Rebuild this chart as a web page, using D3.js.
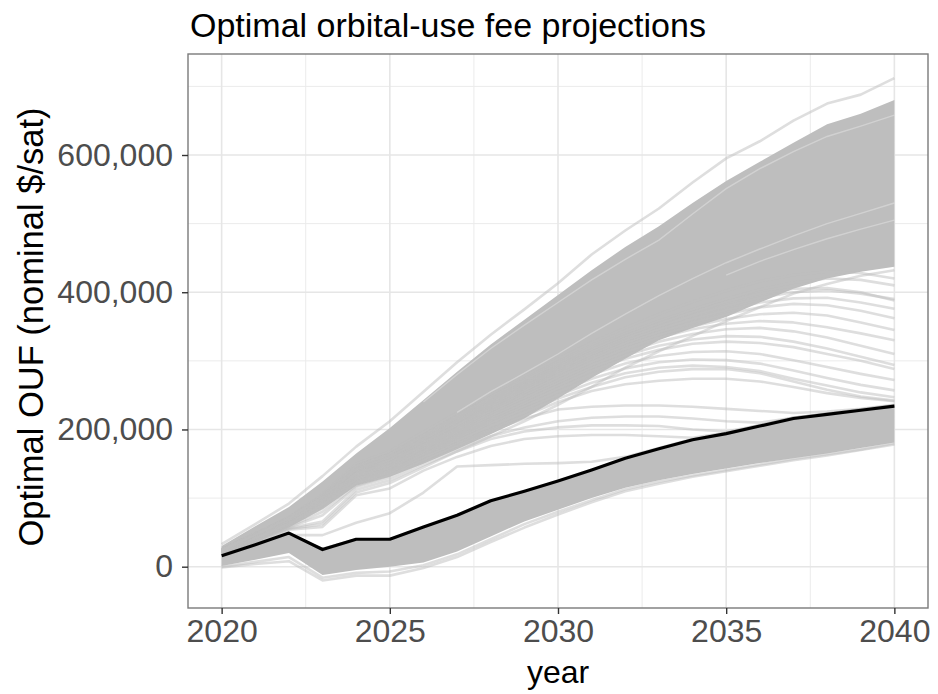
<!DOCTYPE html>
<html>
<head>
<meta charset="utf-8">
<script src="https://cdn.jsdelivr.net/npm/d3@7"></script>
<style>
  html, body { margin: 0; padding: 0; background: #ffffff; }
  svg { display: block; font-family: "Liberation Sans", Arial, sans-serif; }
</style>
</head>
<body>
<svg id="chart" width="938" height="694"></svg>
<script>
// Projection years
const years = [2020, 2021, 2022, 2023, 2024, 2025, 2026, 2027, 2028, 2029, 2030,
               2031, 2032, 2033, 2034, 2035, 2036, 2037, 2038, 2039, 2040];

// All fee values are in thousands of nominal dollars per satellite.

// Central projection (black line)
const centralPath = [16, 32, 49, 25, 40, 40, 58, 75, 96, 110, 125,
                     141, 158, 172, 185, 194, 205, 216, 222, 228, 234];

// Envelope of the densely overlapping high-growth runs
const upperBandTop    = [30, 59, 87, 124, 165, 202, 243, 284, 324, 360, 396,
                         432, 466, 496, 530, 562, 590, 618, 645, 660, 680];
const upperBandBottom = [17, 35, 57, 84, 118, 131, 150, 171, 193, 216, 245,
                         275, 303, 330, 348, 364, 385, 405, 420, 430, 437];

// Envelope of the densely overlapping low-growth runs
const lowerBandTop    = [16, 32, 48, 28, 42, 42, 58, 75, 96, 110, 125,
                         141, 158, 172, 185, 194, 205, 216, 222, 228, 236];
const lowerBandBottom = [1, 10, 20, -12, -5, 0, 6, 22, 44, 66, 83,
                         100, 115, 126, 135, 143, 151, 158, 165, 173, 181];

// Individual runs that stand apart from the dense envelopes
const runHighest = [33, 62, 92, 132, 175, 212, 255, 298, 338, 375, 413,
                    455, 490, 522, 560, 595, 620, 650, 675, 688, 712];
const runLowA = [-1, 4, 8, -20, -13, -13, -2, 14, 36, 57, 76, 94, 110, 121, 131, 139, 147, 155, 162, 170, 178];
const runLowB = [0, 7, 14, -16, -9, -7, 2, 18, 40, 62, 80, 97, 113, 124, 133, 141, 149, 157, 164, 171, 180];
const run01 = [18, 34, 46, 46, 64, 78, 108, 146, 148, 150, 151, 153, 160, 173, 186, 195, 206, 217, 223, 229, 235];
const run02 = [19, 36, 55, 62, 108, 122, 145, 168, 190, 212, 236, 262, 290, 314, 336, 358, 378, 398, 412, 424, 432];
const run03 = [18, 35, 54, 58, 104, 114, 140, 160, 176, 186, 190, 192, 192, 190, 188, 195, 206, 217, 223, 229, 235];
const run04 = [19, 37, 56, 66, 112, 126, 148, 168, 186, 197, 203, 206, 206, 205, 200, 197, 206, 217, 223, 229, 235];
const run05 = [20, 38, 57, 75, 116, 130, 152, 172, 190, 203, 212, 217, 219, 219, 216, 212, 210, 217, 223, 229, 235];
const run06 = [20, 39, 58, 80, 118, 133, 155, 177, 198, 216, 229, 233, 235, 235, 233, 230, 227, 224, 226, 230, 236];
const run07 = [21, 40, 60, 85, 122, 138, 160, 180, 200, 220, 240, 256, 266, 271, 274, 274, 270, 262, 253, 246, 241];
const run08 = [22, 42, 62, 88, 126, 142, 165, 187, 210, 230, 250, 268, 282, 290, 293, 291, 285, 274, 264, 254, 247];
const run09 = [22, 43, 64, 92, 130, 146, 170, 193, 216, 238, 260, 280, 296, 307, 313, 314, 310, 301, 291, 281, 272];
const run10 = [23, 44, 66, 95, 134, 150, 175, 199, 223, 246, 268, 290, 308, 322, 331, 336, 335, 328, 318, 306, 294];
const run11 = [24, 45, 68, 98, 138, 155, 180, 205, 230, 253, 276, 298, 318, 334, 346, 354, 358, 356, 349, 340, 330];
const run12 = [24, 46, 69, 100, 141, 158, 184, 210, 236, 260, 284, 306, 326, 342, 356, 368, 378, 383, 381, 373, 362];
const run13 = [25, 47, 70, 102, 144, 162, 188, 215, 242, 266, 290, 313, 333, 350, 366, 380, 392, 400, 403, 398, 390];
const run14 = [25, 48, 71, 104, 147, 165, 192, 220, 247, 272, 296, 320, 340, 358, 375, 390, 404, 414, 420, 418, 410];
const run15 = [21, 41, 61, 86, 124, 140, 163, 184, 205, 225, 245, 262, 276, 284, 288, 288, 282, 270, 258, 248, 242];
const run16 = [23, 44, 65, 94, 132, 148, 172, 196, 220, 242, 264, 286, 303, 316, 325, 328, 326, 320, 310, 300, 288];
const run17 = [24, 46, 68, 99, 140, 156, 182, 207, 233, 257, 281, 303, 322, 338, 350, 361, 368, 370, 366, 356, 345];
const run18 = [25, 48, 72, 106, 150, 168, 196, 224, 252, 278, 303, 327, 348, 368, 386, 402, 416, 425, 430, 428, 420];
const run19 = [23, 45, 67, 97, 136, 152, 178, 202, 227, 250, 272, 294, 313, 328, 339, 346, 348, 343, 334, 322, 310];
const run20 = [22, 42, 63, 90, 128, 144, 168, 190, 213, 234, 255, 274, 289, 298, 302, 301, 296, 286, 275, 265, 257];
const run21 = [25, 47, 71, 103, 146, 164, 190, 218, 245, 269, 293, 317, 337, 355, 371, 386, 398, 405, 406, 400, 388];
const run22 = [24, 46, 70, 101, 142, 160, 186, 212, 239, 263, 287, 310, 330, 346, 361, 374, 385, 391, 392, 385, 376];

// Thin lighter tracks inside the dense envelope where fewer runs pass
const sparseTrackA = [null, null, null, null, null, null, 240, 280, 318, 352, 385, 418, 448, 476, 514, 551, 580, 605, 627, 642, 658];
const sparseTrackB = [null, null, null, null, null, null, null, 225, 255, 282, 310, 340, 368, 395, 420, 443, 463, 482, 500, 515, 530];
const sparseTrackC = [null, null, null, null, null, null, null, null, null, null, null, null, null, null, null, 425, 445, 462, 478, 492, 505];

// Axis ticks
const xTicks = [2020, 2025, 2030, 2035, 2040];
const xMinorTicks = [2022.5, 2027.5, 2032.5, 2037.5];
const yTicks = [0, 200, 400, 600];
const yMinorTicks = [100, 300, 500, 700];

const scatteredRuns = [run01, run02, run03, run04, run05, run06, run07, run08, run09, run10, run11,
                       run12, run13, run14, run15, run16, run17, run18, run19, run20, run21, run22];

// ---- layout ----
const svg = d3.select("#chart");
const panel = { left: 188, top: 54, right: 928, bottom: 608 };

const x = d3.scaleLinear().domain([2019, 2041]).range([panel.left, panel.right]);
const y = d3.scaleLinear().domain([-60.2, 747.2]).range([panel.bottom, panel.top]);

svg.append("defs").append("clipPath").attr("id", "panel-clip")
  .append("rect")
  .attr("x", panel.left).attr("y", panel.top)
  .attr("width", panel.right - panel.left).attr("height", panel.bottom - panel.top);

// grid
const grid = svg.append("g");
grid.selectAll(".ymin").data(yMinorTicks).join("line")
  .attr("x1", panel.left).attr("x2", panel.right)
  .attr("y1", d => y(d)).attr("y2", d => y(d))
  .attr("stroke", "#ebebeb").attr("stroke-width", 1);
grid.selectAll(".xmin").data(xMinorTicks).join("line")
  .attr("y1", panel.top).attr("y2", panel.bottom)
  .attr("x1", d => x(d)).attr("x2", d => x(d))
  .attr("stroke", "#ebebeb").attr("stroke-width", 1);
grid.selectAll(".ymaj").data(yTicks).join("line")
  .attr("x1", panel.left).attr("x2", panel.right)
  .attr("y1", d => y(d)).attr("y2", d => y(d))
  .attr("stroke", "#e6e6e6").attr("stroke-width", 1.6);
grid.selectAll(".xmaj").data(xTicks).join("line")
  .attr("y1", panel.top).attr("y2", panel.bottom)
  .attr("x1", d => x(d)).attr("x2", d => x(d))
  .attr("stroke", "#e6e6e6").attr("stroke-width", 1.6);

const plot = svg.append("g").attr("clip-path", "url(#panel-clip)");

const band = (top, bottom) => d3.area()
  .x((d, i) => x(years[i]))
  .y0((d, i) => y(bottom[i]))
  .y1((d, i) => y(top[i]))(years);

const line = d3.line()
  .defined(d => d != null)
  .x((d, i) => x(years[i]))
  .y(d => y(d));

// dense envelopes
plot.append("path").attr("d", band(upperBandTop, upperBandBottom)).attr("fill", "#bebebe");
plot.append("path").attr("d", band(lowerBandTop, lowerBandBottom)).attr("fill", "#bebebe");

// individual runs
const runs = scatteredRuns.concat([runHighest, runLowA, runLowB]);
plot.selectAll(".run").data(runs).join("path")
  .attr("d", d => line(d))
  .attr("fill", "none")
  .attr("stroke", "#bebebe")
  .attr("stroke-opacity", 0.5)
  .attr("stroke-width", 2.6)
  .attr("stroke-linejoin", "round");

// lighter tracks inside the envelope
plot.selectAll(".track").data([sparseTrackA, sparseTrackB, sparseTrackC]).join("path")
  .attr("d", d => line(d))
  .attr("fill", "none")
  .attr("stroke", "#ffffff")
  .attr("stroke-opacity", 0.3)
  .attr("stroke-width", 1.4);

// central projection
plot.append("path")
  .attr("d", line(centralPath))
  .attr("fill", "none")
  .attr("stroke", "#000000")
  .attr("stroke-width", 3.2)
  .attr("stroke-linejoin", "round");

// panel border
svg.append("rect")
  .attr("x", panel.left).attr("y", panel.top)
  .attr("width", panel.right - panel.left).attr("height", panel.bottom - panel.top)
  .attr("fill", "none").attr("stroke", "#7a7a7a").attr("stroke-width", 1.4);

// axes
const fmt = d3.format(",");
const xAxis = d3.axisBottom(x).tickValues(xTicks).tickSize(6).tickPadding(5).tickFormat(d3.format("d"));
const yAxis = d3.axisLeft(y).tickValues(yTicks).tickSize(6).tickPadding(9).tickFormat(d => fmt(d * 1000));

const gx = svg.append("g").attr("transform", `translate(0,${panel.bottom})`).call(xAxis);
const gy = svg.append("g").attr("transform", `translate(${panel.left},0)`).call(yAxis);
[gx, gy].forEach(g => {
  g.select(".domain").remove();
  g.selectAll(".tick line").attr("stroke", "#333333").attr("stroke-width", 1.4);
  g.selectAll(".tick text")
    .attr("fill", "#4d4d4d")
    .style("font-size", "32px")
    .style("font-family", "'Liberation Sans', Arial, sans-serif");
});

// titles
svg.append("text")
  .attr("x", 190).attr("y", 37)
  .style("font-size", "34px")
  .attr("fill", "#000")
  .text("Optimal orbital-use fee projections");

svg.append("text")
  .attr("x", (panel.left + panel.right) / 2).attr("y", 683)
  .attr("text-anchor", "middle")
  .style("font-size", "32px")
  .attr("fill", "#000")
  .text("year");

svg.append("text")
  .attr("transform", `translate(43,327) rotate(-90)`)
  .attr("text-anchor", "middle")
  .style("font-size", "34.5px")
  .attr("fill", "#000")
  .text("Optimal OUF (nominal $/sat)");
</script>
</body>
</html>
